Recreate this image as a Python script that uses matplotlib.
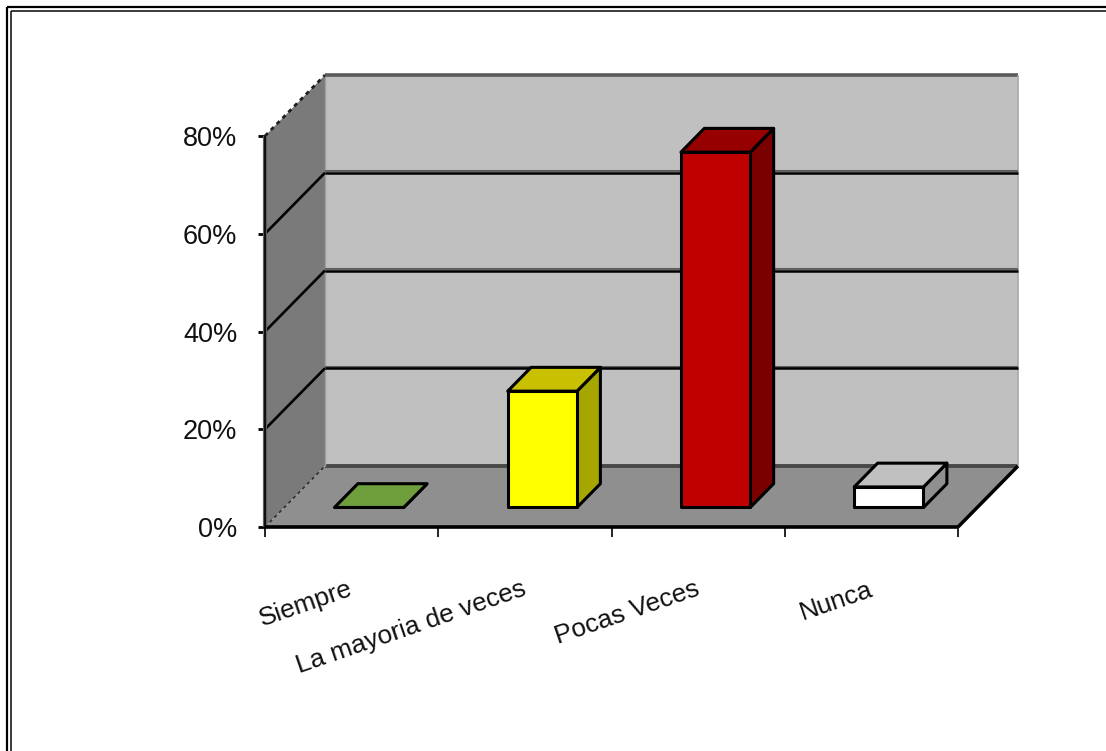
import matplotlib
matplotlib.use('Agg')
import matplotlib.pyplot as plt
from matplotlib.lines import Line2D
from matplotlib.patches import Polygon

categories = ['Siempre', 'La mayoria de veces', 'Pocas Veces', 'Nunca']
values = [0, 23.8, 72.7, 4.2]
y_ticks = [0, 20, 40, 60, 80]
y_labels = ['0%', '20%', '40%', '60%', '80%']

front_colors = ['#6f9e3c', '#ffff00', '#c00000', '#ffffff']
top_colors = ['#6f9e3c', '#c8c000', '#960000', '#c0c0c0']
side_colors = ['#6f9e3c', '#a6a600', '#7a0000', '#8f8f8f']

plt.rcParams['font.family'] = ['Liberation Sans', 'DejaVu Sans']

W, H = 1106, 751
fig = plt.figure(figsize=(W / 100, H / 100), dpi=100, facecolor='white')
ax = fig.add_axes([265 / W, 1 - 527 / H, 693 / W, 391 / H])
ax.set_xlim(0, 4)
ax.set_ylim(0, 80)
ax.set_frame_on(False)

# one unit of depth moves a point this far in data units
DX = 60 / 173.25
DY = 61 / 4.8875
bar_d0, bar_d1 = 0.32, 0.71
bar_w = 0.40
bar_c = 0.49


def pj(x, y, d=0.0):
    return (x + d * DX, y + d * DY)


def poly(pts, color, edge='none', lw=0, z=1):
    ax.add_patch(Polygon(pts, closed=True, facecolor=color, edgecolor=edge,
                         linewidth=lw, zorder=z, clip_on=False, joinstyle='round'))


def seg(a, b, color='black', lw=2, z=2, ls='-'):
    ax.plot([a[0], b[0]], [a[1], b[1]], color=color, lw=lw, ls=ls, zorder=z,
            clip_on=False, solid_capstyle='butt')


# walls and floor
poly([pj(0, 0, 1), pj(4, 0, 1), pj(4, 80, 1), pj(0, 80, 1)], '#c0c0c0')
poly([pj(0, 0), pj(0, 0, 1), pj(0, 80, 1), pj(0, 80)], '#7a7a7a')
poly([pj(0, 0), pj(4, 0), pj(4, 0, 1), pj(0, 0, 1)], '#8f8f8f')

seg(pj(0, 80, 1), pj(4, 80, 1), '#5a5a5a', 2.6)
seg(pj(0, 0, 1), pj(4, 0, 1), '#484848', 2.8)
seg(pj(4, 0, 1), pj(4, 80, 1), '#a8a8a8', 1.2)
seg(pj(0, 0, 1), pj(0, 80, 1), '#a0a0a0', 1)

for t in y_ticks[1:-1]:
    seg(pj(0, t), pj(0, t, 1), 'black', 1.9)
    seg(pj(0, t + 0.35, 1), pj(4, t + 0.35, 1), '#606060', 1.5)
    seg(pj(0, t, 1), pj(4, t, 1), 'black', 1.8)
seg(pj(0, 80), pj(0, 80, 1), '#202020', 2.0, ls=(0, (1.5, 1.5)))
seg(pj(0, 0), pj(0, 0, 1), '#303030', 1.2, ls=(0, (2, 2)))
seg(pj(4, 0), pj(4, 0, 1), 'black', 2.5)

# axis lines
seg(pj(0, 0), pj(0, 80), '#606060', 3, z=2)
seg(pj(0, 0), pj(0, 80), 'black', 1.2, z=3)
seg(pj(0, 0), pj(4, 0), 'black', 2.6, z=3)

# bars
for i, v in enumerate(values):
    x0 = i + bar_c - bar_w / 2
    x1 = i + bar_c + bar_w / 2
    poly([pj(x1, 0, bar_d0), pj(x1, 0, bar_d1), pj(x1, v, bar_d1), pj(x1, v, bar_d0)],
         side_colors[i], 'black', 2.2, 4)
    poly([pj(x0, v, bar_d0), pj(x1, v, bar_d0), pj(x1, v, bar_d1), pj(x0, v, bar_d1)],
         top_colors[i], 'black', 2.2, 5)
    poly([pj(x0, 0, bar_d0), pj(x1, 0, bar_d0), pj(x1, v, bar_d0), pj(x0, v, bar_d0)],
         front_colors[i], 'black', 2.2, 6)

ax.set_yticks(y_ticks)
ax.set_yticklabels(y_labels, fontsize=19.5, color='#111111')
ax.tick_params(axis='y', length=5, width=2, pad=15, color='black')

ax.set_xticks(range(5))
ax.set_xticklabels([])
ax.tick_params(axis='x', which='major', length=7.5, width=1.2, color='black')
ax.set_xticks([i + 0.48 for i in range(4)], minor=True)
ax.set_xticklabels(categories, minor=True, fontsize=18.8, rotation=19, ha='right',
                   va='top', rotation_mode='anchor', color='#111111')
ax.tick_params(axis='x', which='minor', length=0, pad=36)

# double border, top and left only
for p, lw in [(7, 2.2), (10.8, 1.5)]:
    fig.add_artist(Line2D([p / W, p / W], [0, 1 - p / H], color='black', lw=lw * 0.72,
                          solid_capstyle='butt'))
    fig.add_artist(Line2D([p / W, 1], [1 - p / H, 1 - p / H], color='black', lw=lw * 0.72,
                          solid_capstyle='butt'))

fig.savefig('out.png', dpi=100)
